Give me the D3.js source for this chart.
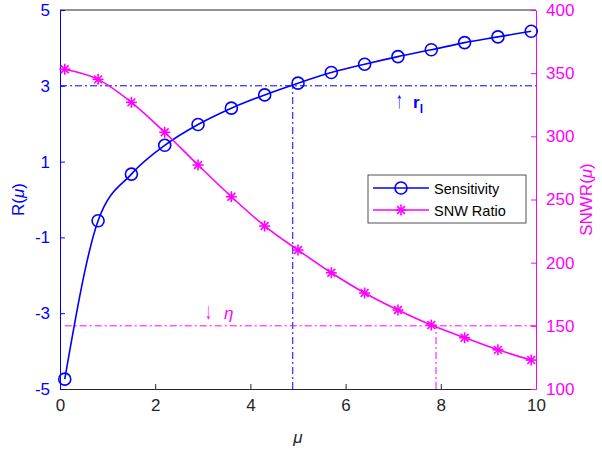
<!DOCTYPE html>
<html>
<head>
<meta charset="utf-8">
<script src="https://cdn.jsdelivr.net/npm/d3@7"></script>
<style>
  body { margin: 0; background: #fff; }
  text { font-family: "Liberation Sans", Arial, sans-serif; }
</style>
</head>
<body>
<script>
'use strict';

// sample positions (mu) and read-off values
const mu = [0.1, 0.8, 1.5, 2.2, 2.9, 3.6, 4.3, 5.0, 5.7, 6.4, 7.1, 7.8, 8.5, 9.2, 9.9];
const sensitivity = [-4.74, -0.56, 0.67, 1.43, 1.98, 2.41, 2.76, 3.07, 3.35, 3.57, 3.77, 3.95, 4.14, 4.29, 4.44];
const snwr = [353.1, 345.1, 326.9, 303.2, 277.3, 252.2, 229.0, 210.0, 192.0, 176.0, 162.5, 150.6, 140.6, 131.0, 122.9];

const xTicks = [0, 2, 4, 6, 8, 10];
const leftTicks = [-5, -3, -1, 1, 3, 5];
const rightTicks = [100, 150, 200, 250, 300, 350, 400];

// reference lines
const rLevel = 3;      // horizontal blue line (left axis)
const rMu = 4.89;      // vertical blue line
const etaLevel = 150;  // horizontal magenta line (right axis)
const etaMu = 7.9;     // vertical magenta line
const etaStart = 0.1;

const blue = '#0000ff', magenta = '#ff00ff', dark = '#262626';
const plain = d => String(d); // keep ascii hyphen for negatives

const svg = d3.select('body').append('svg')
  .attr('width', 602).attr('height', 452);

const x = d3.scaleLinear().domain([0, 10]).range([60, 536]);
const yL = d3.scaleLinear().domain([-5, 5]).range([389, 10]);
const yR = d3.scaleLinear().domain([100, 400]).range([389, 10]);

// top border
svg.append('line')
  .attr('x1', x(0)).attr('x2', x(10)).attr('y1', yL(5)).attr('y2', yL(5))
  .attr('stroke', dark).attr('stroke-width', 1);

// bottom axis
const gx = svg.append('g')
  .attr('transform', 'translate(0,' + yL(-5) + ')')
  .call(d3.axisBottom(x).tickValues(xTicks).tickFormat(plain)
    .tickSizeInner(-5).tickSizeOuter(0).tickPadding(10));
gx.select('.domain').attr('stroke', dark);
gx.selectAll('.tick line').attr('stroke', dark);
gx.selectAll('.tick text').attr('fill', dark).style('font-size', '17px');

// left axis
const gl = svg.append('g')
  .attr('transform', 'translate(' + x(0) + ',0)')
  .call(d3.axisLeft(yL).tickValues(leftTicks).tickFormat(plain)
    .tickSizeInner(-5).tickSizeOuter(0).tickPadding(10));
gl.select('.domain').attr('stroke', blue);
gl.selectAll('.tick line').attr('stroke', blue);
gl.selectAll('.tick text').attr('fill', blue).style('font-size', '17px');

// right axis
const gr = svg.append('g')
  .attr('transform', 'translate(' + x(10) + ',0)')
  .call(d3.axisRight(yR).tickValues(rightTicks).tickFormat(plain)
    .tickSizeInner(-5).tickSizeOuter(0).tickPadding(10));
gr.select('.domain').attr('stroke', magenta);
gr.selectAll('.tick line').attr('stroke', magenta);
gr.selectAll('.tick text').attr('fill', magenta).style('font-size', '17px');

// axis labels
svg.append('text')
  .attr('transform', 'translate(24,' + yL(0) + ')rotate(-90)')
  .attr('text-anchor', 'middle').attr('fill', blue).style('font-size', '17px')
  .html('R(<tspan font-style="italic">\u03bc</tspan>)');
svg.append('text')
  .attr('transform', 'translate(592,' + yL(0) + ')rotate(-90)')
  .attr('text-anchor', 'middle').attr('fill', magenta).style('font-size', '17px')
  .html('SNWR(<tspan font-style="italic">\u03bc</tspan>)');
svg.append('text')
  .attr('x', x(5)).attr('y', 443)
  .attr('text-anchor', 'middle').attr('fill', dark).style('font-size', '17px')
  .style('font-style', 'italic')
  .text('\u03bc');

// dash-dot reference lines
const dashDot = '7,3,2,3';
svg.append('line')
  .attr('x1', x(0)).attr('x2', x(10)).attr('y1', yL(rLevel)).attr('y2', yL(rLevel))
  .attr('stroke', blue).attr('stroke-dasharray', dashDot);
svg.append('line')
  .attr('x1', x(rMu)).attr('x2', x(rMu)).attr('y1', yL(-5)).attr('y2', yL(rLevel))
  .attr('stroke', blue).attr('stroke-dasharray', dashDot);
svg.append('line')
  .attr('x1', x(etaStart)).attr('x2', x(10)).attr('y1', yR(etaLevel)).attr('y2', yR(etaLevel))
  .attr('stroke', magenta).attr('stroke-dasharray', dashDot);
svg.append('line')
  .attr('x1', x(etaMu)).attr('x2', x(etaMu)).attr('y1', yR(100)).attr('y2', yR(etaLevel))
  .attr('stroke', magenta).attr('stroke-dasharray', dashDot);

// annotations (arrow glyph stretched vertically like the TeX arrow)
svg.append('text').attr('transform', 'translate(396,108) scale(0.8,1.35)')
  .attr('fill', blue).style('font-size', '17px').text('\u2191');
const rNote = svg.append('text').attr('x', 413).attr('y', 108).attr('fill', blue);
rNote.append('tspan').style('font-size', '17px').style('font-weight', 'bold').text('r');
rNote.append('tspan').attr('dy', 5).style('font-size', '12px').style('font-weight', 'bold').text('l');

svg.append('text').attr('transform', 'translate(205,319) scale(0.8,1.35)')
  .attr('fill', magenta).style('font-size', '17px').text('\u2193');
svg.append('text').attr('x', 224).attr('y', 319).attr('fill', magenta)
  .style('font-size', '17px').style('font-style', 'italic').text('\u03b7');

// series curves
const sensData = mu.map((m, i) => ({ m: m, v: sensitivity[i] }));
const snwrData = mu.map((m, i) => ({ m: m, v: snwr[i] }));

const sensLine = d3.line().x(d => x(d.m)).y(d => yL(d.v)).curve(d3.curveMonotoneX);
const snwrLine = d3.line().x(d => x(d.m)).y(d => yR(d.v)).curve(d3.curveMonotoneX);

svg.append('path').datum(sensData)
  .attr('d', sensLine).attr('fill', 'none').attr('stroke', blue).attr('stroke-width', 1.6);
svg.append('path').datum(snwrData)
  .attr('d', snwrLine).attr('fill', 'none').attr('stroke', magenta).attr('stroke-width', 1.6);

// markers
function circleMarker(g, cx, cy) {
  g.append('circle').attr('cx', cx).attr('cy', cy).attr('r', 6)
    .attr('fill', 'none').attr('stroke', blue).attr('stroke-width', 1.6);
}
function starMarker(g, cx, cy) {
  const r = 5.5, d = r * 0.707;
  const segs = [[-r, 0, r, 0], [0, -r, 0, r], [-d, -d, d, d], [-d, d, d, -d]];
  segs.forEach(s => g.append('line')
    .attr('x1', cx + s[0]).attr('y1', cy + s[1]).attr('x2', cx + s[2]).attr('y2', cy + s[3])
    .attr('stroke', magenta).attr('stroke-width', 1.6));
}
const marks = svg.append('g');
sensData.forEach(d => circleMarker(marks, x(d.m), yL(d.v)));
snwrData.forEach(d => starMarker(marks, x(d.m), yR(d.v)));

// legend
const lg = svg.append('g').attr('transform', 'translate(368,175)');
lg.append('rect').attr('width', 158).attr('height', 48)
  .attr('fill', '#fff').attr('stroke', dark).attr('stroke-width', 0.8);
lg.append('line').attr('x1', 5).attr('x2', 61).attr('y1', 13).attr('y2', 13)
  .attr('stroke', blue).attr('stroke-width', 1.6);
circleMarker(lg, 33, 13);
lg.append('line').attr('x1', 5).attr('x2', 61).attr('y1', 35).attr('y2', 35)
  .attr('stroke', magenta).attr('stroke-width', 1.6);
starMarker(lg, 33, 35);
lg.append('text').attr('x', 66).attr('y', 18.5).attr('fill', '#000')
  .style('font-size', '14.5px').text('Sensitivity');
lg.append('text').attr('x', 66).attr('y', 40.5).attr('fill', '#000')
  .style('font-size', '14.5px').text('SNW Ratio');
</script>
</body>
</html>
